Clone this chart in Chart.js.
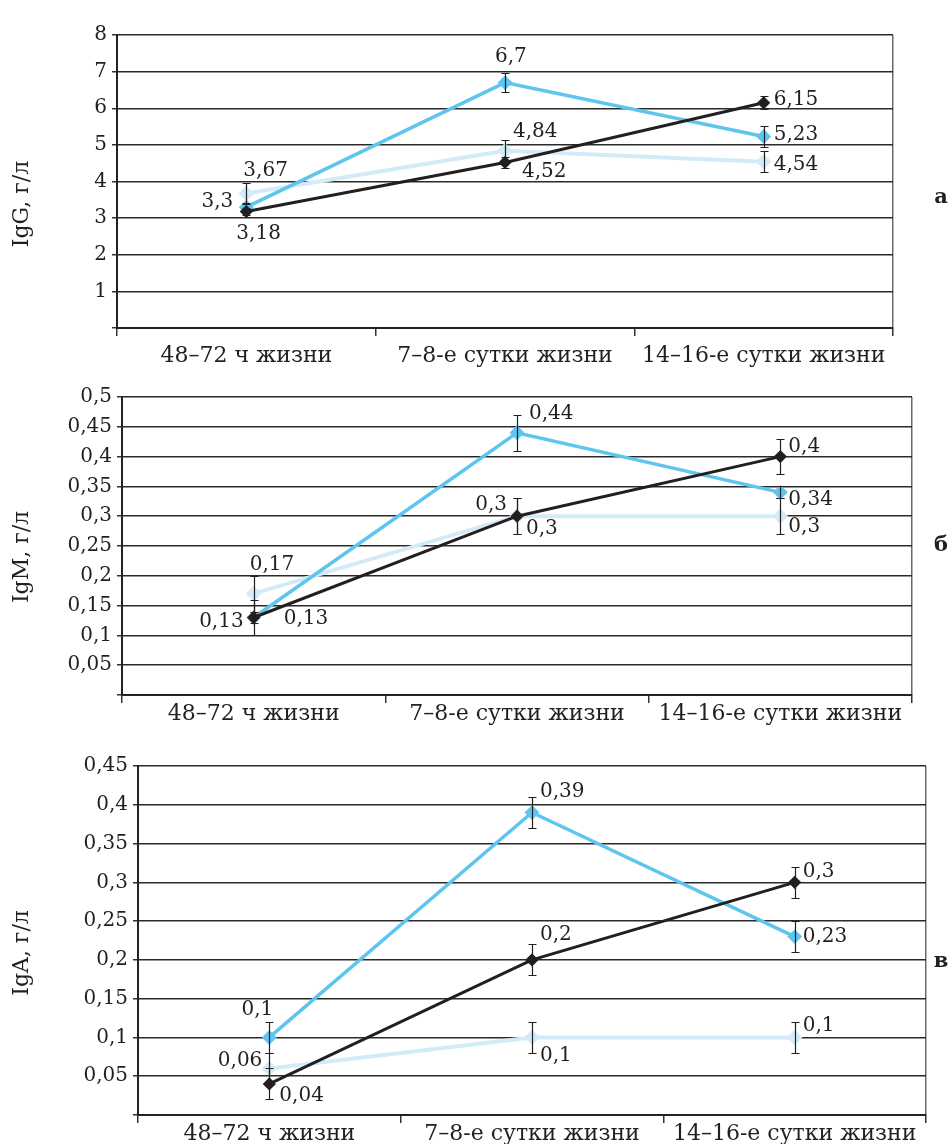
<!DOCTYPE html>
<html>
<head>
<meta charset="utf-8">
<script src="https://cdn.jsdelivr.net/npm/chart.js@4"></script>
<style>
  body { margin: 0; background: #fff; width: 950px; height: 1144px; position: relative; overflow: hidden; }
  canvas { position: absolute; left: 0; }
</style>
</head>
<body>
<canvas id="chartA" width="950" height="372" style="top:0px"></canvas>
<canvas id="chartB" width="950" height="360" style="top:375px"></canvas>
<canvas id="chartC" width="950" height="404" style="top:740px"></canvas>
<script>
// categories (same on all three panels)
const categories = ['48–72 ч жизни', '7–8-е сутки жизни', '14–16-е сутки жизни'];

// panel а — IgG
const igGBlack = [3.18, 4.52, 6.15];
const igGBlue = [3.3, 6.7, 5.23];
const igGPale = [3.67, 4.84, 4.54];
const igGBlackErr = [0.1, 0.15, 0.18];
const igGBlueErr = [0.1, 0.25, 0.28];
const igGPaleErr = [0.28, 0.3, 0.28];
const igGTicks = [0, 1, 2, 3, 4, 5, 6, 7, 8];

// panel б — IgM
const igMBlack = [0.13, 0.3, 0.4];
const igMBlue = [0.13, 0.44, 0.34];
const igMPale = [0.17, 0.3, 0.3];
const igMBlackErr = [0.03, 0.03, 0.03];
const igMBlueErr = [0.01, 0.03, 0.01];
const igMPaleErr = [0.03, 0.03, 0.03];
const igMTicks = [0, 0.05, 0.1, 0.15, 0.2, 0.25, 0.3, 0.35, 0.4, 0.45, 0.5];

// panel в — IgA
const igABlack = [0.04, 0.2, 0.3];
const igABlue = [0.1, 0.39, 0.23];
const igAPale = [0.06, 0.1, 0.1];
const igABlackErr = [0.02, 0.02, 0.02];
const igABlueErr = [0.02, 0.02, 0.02];
const igAPaleErr = [0.02, 0.02, 0.02];
const igATicks = [0, 0.05, 0.1, 0.15, 0.2, 0.25, 0.3, 0.35, 0.4, 0.45];

const FONT = '"DejaVu Serif", serif';
const INK = '#231f20';
const BLUE = '#5ec5ef';
const PALE = '#d3ebf8';

const fmt = v => String(Math.round(v * 100) / 100).replace('.', ',');

// error bars, value labels, axis title and panel letter
const extras = {
    id: 'extras',
    afterDatasetsDraw(chart, args, opts) {
        const ctx = chart.ctx;
        const y = chart.scales.y;
        ctx.save();
        ctx.strokeStyle = INK;
        ctx.lineWidth = 1.2;
        chart.data.datasets.forEach((ds, i) => {
            const meta = chart.getDatasetMeta(i);
            meta.data.forEach((pt, j) => {
                const e = opts.errors[i][j];
                const yt = Math.round(y.getPixelForValue(ds.data[j] + e)) + 0.5;
                const yb = Math.round(y.getPixelForValue(ds.data[j] - e)) + 0.5;
                const x = Math.round(pt.x) + 0.5;
                ctx.beginPath();
                ctx.moveTo(x, yt); ctx.lineTo(x, yb);
                ctx.moveTo(x - 4, yt); ctx.lineTo(x + 4, yt);
                ctx.moveTo(x - 4, yb); ctx.lineTo(x + 4, yb);
                ctx.stroke();
            });
        });

        ctx.font = '20px ' + FONT;
        ctx.fillStyle = INK;
        ctx.textBaseline = 'middle';
        chart.data.datasets.forEach((ds, i) => {
            const meta = chart.getDatasetMeta(i);
            meta.data.forEach((pt, j) => {
                const p = opts.places[i][j];
                ctx.textAlign = p[2];
                ctx.fillText(fmt(ds.data[j]), pt.x + p[0], pt.y + p[1]);
            });
        });

        // y axis title
        ctx.save();
        ctx.translate(opts.title.x, opts.title.y);
        ctx.rotate(-Math.PI / 2);
        ctx.textAlign = 'center';
        ctx.font = '22px ' + FONT;
        ctx.fillText(opts.title.text, 0, 0);
        ctx.restore();

        // panel letter
        ctx.font = 'bold 21px ' + FONT;
        ctx.textAlign = 'center';
        ctx.fillText(opts.letter.text, opts.letter.x, opts.letter.y);
        ctx.restore();
    }
};

function makePanel(id, p) {
    const canvas = document.getElementById(id);
    const H = canvas.height;
    const xHeight = H - p.bottom; // x axis box runs to the canvas bottom so labels are not clipped
    return new Chart(canvas.getContext('2d'), {
        type: 'line',
        data: {
            labels: categories,
            datasets: [
                { data: p.black, borderColor: INK, backgroundColor: INK, borderWidth: 3, pointStyle: 'rectRot', pointRadius: 4.5 },
                { data: p.blue, borderColor: BLUE, backgroundColor: BLUE, borderWidth: 3.5, pointStyle: 'rectRot', pointRadius: 5 },
                { data: p.pale, borderColor: PALE, backgroundColor: PALE, borderWidth: 4, pointStyle: 'rectRot', pointRadius: 5 }
            ]
        },
        options: {
            responsive: false,
            animation: false,
            devicePixelRatio: 1,
            layout: {
                padding: { top: p.top, left: 0, right: 950 - p.right, bottom: 0 }
            },
            plugins: {
                legend: { display: false },
                tooltip: { enabled: false },
                extras: {
                    errors: p.errors,
                    places: p.places,
                    title: p.title,
                    letter: p.letter
                }
            },
            scales: {
                x: {
                    offset: true,
                    afterFit: s => { s.height = xHeight; },
                    grid: {
                        offset: true,
                        drawOnChartArea: true,
                        color: c => c.type === 'tick' ? 'rgba(0,0,0,0)' : '#6a6a6a',
                        tickColor: '#333',
                        tickLength: 8,
                        lineWidth: 1.5
                    },
                    border: { color: '#222', width: 2 },
                    ticks: { color: INK, font: { family: FONT, size: 22 }, padding: p.xPad, maxRotation: 0 }
                },
                y: {
                    min: p.ticks[0],
                    max: p.ticks[p.ticks.length - 1],
                    afterFit: s => { s.width = p.left; },
                    afterBuildTicks: s => { s.ticks = p.ticks.map(v => ({ value: v })); },
                    grid: { color: '#2a2a2a', lineWidth: 1.5, tickLength: 5, tickColor: '#333' },
                    border: { color: '#222', width: 2 },
                    ticks: {
                        color: INK,
                        font: { family: FONT, size: 20 },
                        padding: 5,
                        callback: v => v === 0 ? '' : fmt(v)
                    }
                }
            }
        },
        plugins: [extras]
    });
}

makePanel('chartA', {
    top: 35, bottom: 328, left: 117, right: 893, xPad: 7,
    black: igGBlack, blue: igGBlue, pale: igGPale,
    errors: [igGBlackErr, igGBlueErr, igGPaleErr],
    ticks: igGTicks,
    places: [
        [[-10, 22, 'left'], [17, 9, 'left'], [10, -3, 'left']],
        [[-13, -5, 'right'], [-10, -26, 'left'], [10, -2, 'left']],
        [[-3, -23, 'left'], [8, -19, 'left'], [10, 3, 'left']]
    ],
    title: { text: 'IgG, г/л', x: 22, y: 204 },
    letter: { text: 'а', x: 941, y: 198 }
});

makePanel('chartB', {
    top: 22, bottom: 320, left: 122, right: 912, xPad: -2,
    black: igMBlack, blue: igMBlue, pale: igMPale,
    errors: [igMBlackErr, igMBlueErr, igMPaleErr],
    ticks: igMTicks,
    places: [
        [[-10, 4, 'right'], [-10, -11, 'right'], [8, -10, 'left']],
        [[30, 1, 'left'], [12, -19, 'left'], [8, 7, 'left']],
        [[-4, -29, 'left'], [9, 13, 'left'], [8, 11, 'left']]
    ],
    title: { text: 'IgM, г/л', x: 22, y: 182 },
    letter: { text: 'б', x: 941, y: 171 }
});

makePanel('chartC', {
    top: 26, bottom: 375, left: 138, right: 926, xPad: -2,
    black: igABlack, blue: igABlue, pale: igAPale,
    errors: [igABlackErr, igABlueErr, igAPaleErr],
    ticks: igATicks,
    places: [
        [[10, 12, 'left'], [8, -25, 'left'], [8, -11, 'left']],
        [[4, -28, 'right'], [8, -21, 'left'], [8, 0, 'left']],
        [[-7, -8, 'right'], [8, 18, 'left'], [8, -12, 'left']]
    ],
    title: { text: 'IgA, г/л', x: 22, y: 213 },
    letter: { text: 'в', x: 941, y: 222 }
});
</script>
</body>
</html>
